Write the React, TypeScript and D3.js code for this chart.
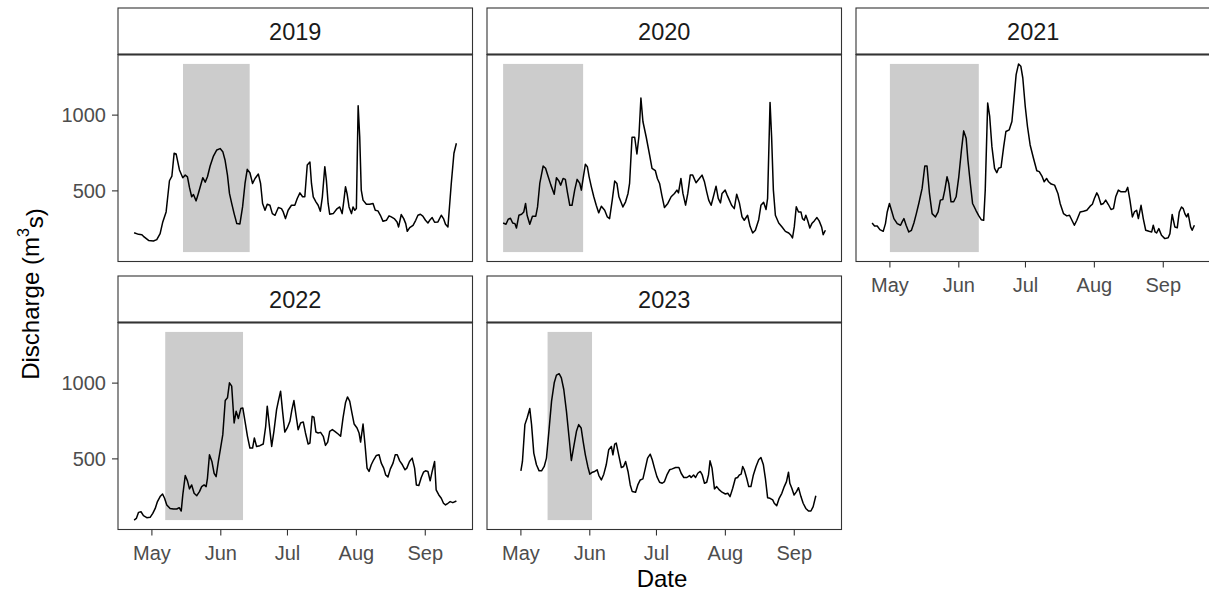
import React from 'react';
import * as d3 from 'd3';

// Facet labels
const years = ['2019', '2020', '2021', '2022', '2023'];
const monthTicks = ['May', 'Jun', 'Jul', 'Aug', 'Sep'];
const monthIndex = [4, 5, 6, 7, 8];
const yTicks = [500, 1000];

// days after 1 May, discharge (m3/s)
const days2019 = [-8,-6,-4.5,-3.8,-1.5,0.7,2.2,3.7,4.9,6.4,7.9,9,10,10.9,12.4,13.9,15,16,16.9,17.9,18.7,19.9,20.9,22.9,24,25,26.2,27.7,29.2,30.7,31.9,32.9,34,34.9,35.9,37,38.2,39.6,40.8,41.9,42.9,44.1,45.3,46.4,47.9,48.9,49.8,50.9,51.9,53.1,54.2,55.4,56.9,58.3,59.1,60.1,61.3,62.8,64.3,65.4,66.6,67.8,68.8,69.9,71.1,71.8,72.6,73.8,74.8,75.8,76.7,77.8,78.5,79.3,80,81.6,83.1,84.5,85.6,86.3,87.1,87.8,88.7,89.8,90.5,91.3,92,92.8,93.5,94.2,95,96.5,98,99.5,100.5,101.7,102.8,104,105.5,106.7,107.7,109.2,110.3,111,112.2,113.3,114.2,114.9,116,117.5,118.7,119.7,120.8,121.9,123.1,124.2,125.2,126.1,127.2,128.7,130.2,131.2,132.1,133.2,134.7,135.9,137];
const q2019 = [224,213,211,200,173,169,178,218,295,361,567,598,748,744,638,587,604,593,523,461,476,434,483,587,558,593,664,730,770,779,759,704,604,483,417,350,284,282,394,549,642,620,549,582,611,549,417,372,412,405,350,339,390,383,361,317,372,405,405,450,487,461,461,671,691,549,461,428,405,366,461,660,571,417,346,350,379,394,350,428,527,483,394,350,394,372,383,1062,859,505,439,412,412,417,372,368,339,299,306,335,328,315,295,262,344,317,284,233,257,273,306,339,346,333,306,288,310,324,293,295,339,317,280,262,549,748,814];

const days2020 = [-8,-6.7,-5.7,-4.7,-3.7,-2.7,-2,-0.9,0.3,1.3,2.1,2.8,4,5.2,6.7,7.5,8.5,10,11.1,12.3,13.5,15,16,17.1,17.9,19,20,20.9,22,23,24.2,25.3,26.5,27.2,28,29,29.9,30.7,31.7,32.8,33.9,35,36.2,37.7,38.9,39.9,41.1,42.2,43.2,44.1,45.9,47.1,48.2,48.9,50,51.2,52.2,53.1,54,54.9,56.4,57.9,59,60.5,61.4,62.4,63.4,64.6,66.1,67.6,69.1,70.2,70.9,72,72.9,74.1,75.1,76.2,77.3,78.8,80.3,81.5,82.6,83.6,84.5,85.6,86.6,87.8,88.8,89.8,90.5,91.9,92.8,93.8,94.8,96,97.1,98.3,99.5,100.5,102,103.1,104.3,105.5,107,108,109.2,110.3,111,112.1,112.8,113.6,114.5,116,117.5,119,120.5,121.5,122.2,123,123.9,124.9,126,126.7,127.5,128.2,129,130,130.9,132,133.2,134.2,135.3,136,137];
const q2020 = [288,280,313,319,288,284,255,339,346,361,417,339,280,333,333,394,549,664,649,593,538,478,587,565,538,582,576,494,405,405,505,576,549,505,582,675,660,593,527,461,405,355,399,372,328,317,439,565,549,461,394,428,483,549,854,854,744,859,1113,958,854,737,649,633,582,549,472,390,417,461,483,505,487,582,483,406,483,604,604,554,582,604,560,494,439,405,461,531,450,421,483,505,472,439,405,383,478,421,328,306,339,266,222,240,310,405,425,377,450,1084,859,505,339,288,262,233,222,207,189,262,395,361,361,317,306,339,306,255,284,302,324,302,262,211,240];

const days2021 = [-8,-6.9,-5.7,-4.5,-3,-2,-1.2,-0.2,0.7,1.8,3.3,4.8,5.5,6.3,7.3,8.5,9.7,10.8,11.9,13,14.5,15.7,16.7,17.8,19,20.5,21.7,22.7,23.8,24.7,25.7,26.5,27.5,28.7,29.8,31,32.2,33.2,34.3,35.1,36.2,37.2,38.7,39.9,41.1,42.2,42.9,44,44.9,45.9,47.1,48.1,48.9,50,51.2,52.2,53.7,54.9,55.8,56.8,57.9,58.9,59.8,60.9,61.9,63.1,64.6,66.1,67.2,68.4,69.4,70.5,71.4,72.6,74.1,75.6,76.6,78.1,79.6,80.8,81.9,83,84.1,85.6,87.1,88.6,90.1,91.1,92,93.1,93.8,95,96.1,97.1,98.3,99.5,100.6,101.6,102.8,104,105,106.1,107,108,109.1,110,111,111.8,113,114,115.1,116.6,117.8,118.5,119.3,120,121,122.2,123.7,125.2,126,127,128.2,129.3,130.2,131.2,132,132.7,133.5,134.2,135.3,136,137];
const q2021 = [288,268,268,244,233,284,361,417,372,317,284,273,295,317,273,229,240,288,350,417,516,664,664,483,350,328,361,439,443,505,593,549,428,428,461,593,770,896,848,704,549,417,372,339,310,306,505,1080,991,792,649,620,649,655,792,892,903,958,1102,1267,1338,1323,1245,1057,925,803,715,633,627,598,560,582,560,545,538,483,417,350,335,339,306,273,306,361,366,372,399,412,450,487,467,410,417,439,410,377,383,461,505,494,494,494,523,439,328,361,372,317,405,317,240,233,229,273,229,222,251,207,185,191,218,344,262,257,361,394,383,350,328,350,262,240,273];

const days2022 = [-8,-7,-6,-4.9,-3.8,-2.3,-0.8,0.4,1.5,2.5,3.7,4.8,5.7,6.7,8.2,9.7,11.2,12.3,13.2,13.9,15,16,16.9,17.9,19,20.2,21.4,22.4,23.5,24.4,25,25.9,27,28,28.9,29.9,30.9,31.9,33,34,34.9,35.9,37,37.9,38.9,40,40.9,41.9,43,44.1,45.3,46.1,47.1,48.6,50.1,51.2,51.9,52.8,53.9,54.9,56.1,56.9,57.9,58.8,59.8,60.9,62.1,63,63.9,64.8,65.8,66.9,68.1,69.1,70.3,71.1,72.1,72.9,73.8,74.8,75.9,77.1,78.1,79.1,80,81.2,82.3,83.8,84.9,86,87.1,88,89,90,91,92.3,93.2,93.9,95,95.9,96.8,97.7,98.7,99.8,101,102.2,103.2,104.3,105.2,106.2,107.3,108.5,109.5,110.4,111.5,112.7,113.9,114.7,115.9,117.1,118.2,119,120.1,121.2,122.2,123.1,124.2,125.2,126.1,127.2,127.9,129.1,130.2,131.2,132.1,133.2,134.2,135.4,137];
const q2022 = [96,107,147,151,125,112,114,140,173,218,251,268,240,196,173,169,169,178,156,262,390,355,302,328,273,257,284,317,328,317,372,527,483,405,383,483,571,660,885,903,1002,980,737,814,766,832,836,748,649,571,571,638,582,587,598,715,848,726,582,682,825,881,947,814,677,704,748,825,885,792,693,737,744,671,598,604,781,775,677,671,675,649,589,611,682,693,682,664,649,770,870,909,881,803,730,704,671,611,730,593,439,417,461,494,523,527,472,439,394,381,434,472,527,527,487,461,428,439,483,505,439,328,324,377,412,421,417,355,417,483,295,262,240,207,196,207,218,211,222];

const days2023 = [0,0.7,1.8,2.8,4,4.8,5.8,7,8.2,9.3,10.5,11.5,12.6,13.8,15,16,17.2,18.2,19.3,20.5,21.7,22.7,23.8,25,26,27.1,28,29,30.1,31,32.2,33.2,34.3,35.1,36.2,37.3,38.4,39.5,40.7,41.4,42.2,42.9,44,45.2,46.2,47.1,48.2,49.2,50.1,51.6,52.6,53.7,54.9,56,57,58.2,59.1,60.1,61.2,62.4,63.6,64.6,65.7,66.9,68.1,69.6,71.1,72.1,73.3,74.7,75.9,76.6,77.7,78.6,79.6,80.7,81.6,82.6,83.6,84.4,85.1,86,87.1,88.1,89.3,90.5,92,93.1,94.1,95.3,96.5,97.5,98.3,99.1,99.8,100.5,101.6,102.5,103.5,104.6,105.8,107,108,109.1,110,111,112.1,113.3,114,115.1,116.2,117.4,118.5,119.5,120.4,121,121.9,122.9,124,124.9,126,127,128.2,129.4,130.5,131.5,132.7];
const q2023 = [421,483,726,770,832,726,538,461,421,421,450,505,682,881,1002,1053,1062,1035,958,814,638,489,582,682,726,704,615,527,450,399,412,417,428,390,361,399,461,560,582,527,598,604,527,443,450,483,417,328,284,280,328,361,368,439,505,531,494,439,383,346,339,350,394,428,434,443,443,405,377,377,390,377,394,377,405,417,394,339,346,394,487,439,302,317,295,280,268,273,251,306,372,377,394,399,450,428,372,317,317,394,450,494,509,461,372,244,240,229,207,191,240,273,317,350,412,339,306,262,284,310,251,207,173,156,156,185,257];

// shaded periods (days after 1 May)
const shadeStart = [14, -8, 0, 6, 12];
const shadeEnd = [44, 28, 40, 41, 32];

const seriesDays = [days2019, days2020, days2021, days2022, days2023];
const seriesQ = [q2019, q2020, q2021, q2022, q2023];

const W = 1209;
const H = 592;
const colX = [118, 487, 856];
const panelW = 354.5;
const stripTop = [8, 276];
const stripH = 46.5;
const panelH = 207;
const FONT = '"Liberation Sans", Arial, Helvetica, sans-serif';

const BASE = new Date(2021, 4, 1).getTime();
const toDate = (d: number) => new Date(BASE + d * 864e5);

export default function App() {
  const allDays = seriesDays.flat();
  const allQ = seriesQ.flat();
  const [dMin, dMax] = d3.extent(allDays) as [number, number];
  const [qMin, qMax] = d3.extent(allQ) as [number, number];
  const dPad = (dMax - dMin) * 0.05;
  const qPad = (qMax - qMin) * 0.05;

  const x = d3.scaleTime().domain([toDate(dMin - dPad), toDate(dMax + dPad)]).range([0, panelW]);
  const y = d3.scaleLinear().domain([qMin - qPad, qMax + qPad]).range([panelH, 0]);

  const line = d3.line<[number, number]>()
    .x((p) => x(toDate(p[0])))
    .y((p) => y(p[1]));

  const panels = years.map((yr, i) => {
    const row = i < 3 ? 0 : 1;
    const col = i < 3 ? i : i - 3;
    const px = colX[col];
    const sTop = stripTop[row];
    const pTop = sTop + stripH;
    const pts = seriesDays[i].map((d, k) => [d, seriesQ[i][k]] as [number, number]);
    const showX = i >= 2;
    const showY = col === 0;
    return (
      <g key={yr}>
        {/* strip */}
        <rect x={px} y={sTop} width={panelW} height={stripH} fill="#ffffff" stroke="#333333" strokeWidth={1.1} />
        <text x={px + panelW / 2} y={sTop + stripH / 2} dy="0.36em" textAnchor="middle" fontFamily={FONT} fontSize={23.5} fill="#1A1A1A">{yr}</text>
        <g transform={`translate(${px},${pTop})`}>
          <rect x={0} y={0} width={panelW} height={panelH} fill="#ffffff" />
          <rect
            x={x(toDate(shadeStart[i]))}
            y={y(qMax)}
            width={x(toDate(shadeEnd[i])) - x(toDate(shadeStart[i]))}
            height={y(qMin) - y(qMax)}
            fill="#CCCCCC"
          />
          <path d={line(pts) || ''} fill="none" stroke="#000000" strokeWidth={1.5} strokeLinejoin="round" />
          <rect x={0} y={0} width={panelW} height={panelH} fill="none" stroke="#333333" strokeWidth={1.1} />
          <line x1={0} x2={panelW} y1={0} y2={0} stroke="#333333" strokeWidth={2.2} />
          {showY && yTicks.map((t) => (
            <g key={t} transform={`translate(0,${y(t)})`}>
              <line x1={-6} x2={0} stroke="#333333" strokeWidth={1.1} />
              <text x={-12} dy="0.36em" textAnchor="end" fontFamily={FONT} fontSize={20} fill="#4D4D4D">{t}</text>
            </g>
          ))}
          {showX && monthTicks.map((m, k) => {
            const tx = x(new Date(2021, monthIndex[k], 1));
            return (
              <g key={m} transform={`translate(${tx},${panelH})`}>
                <line y1={0} y2={6} stroke="#333333" strokeWidth={1.1} />
                <text y={23} dy="0.36em" textAnchor="middle" fontFamily={FONT} fontSize={20} fill="#4D4D4D">{m}</text>
              </g>
            );
          })}
        </g>
      </g>
    );
  });

  return (
    <svg width={W} height={H} style={{ position: 'absolute', left: 0, top: 0, background: '#ffffff' }}>
      <rect x={0} y={0} width={W} height={H} fill="#ffffff" />
      {panels}
      <text x={662} y={578} dy="0.36em" textAnchor="middle" fontFamily={FONT} fontSize={24} fill="#000000">Date</text>
      <text transform="translate(30,294) rotate(-90)" dy="0.36em" textAnchor="middle" fontFamily={FONT} fontSize={24} fill="#000000">
        Discharge (m<tspan dy="-0.6em" fontSize={16}>3</tspan><tspan dy="0.6em">s)</tspan>
      </text>
    </svg>
  );
}
